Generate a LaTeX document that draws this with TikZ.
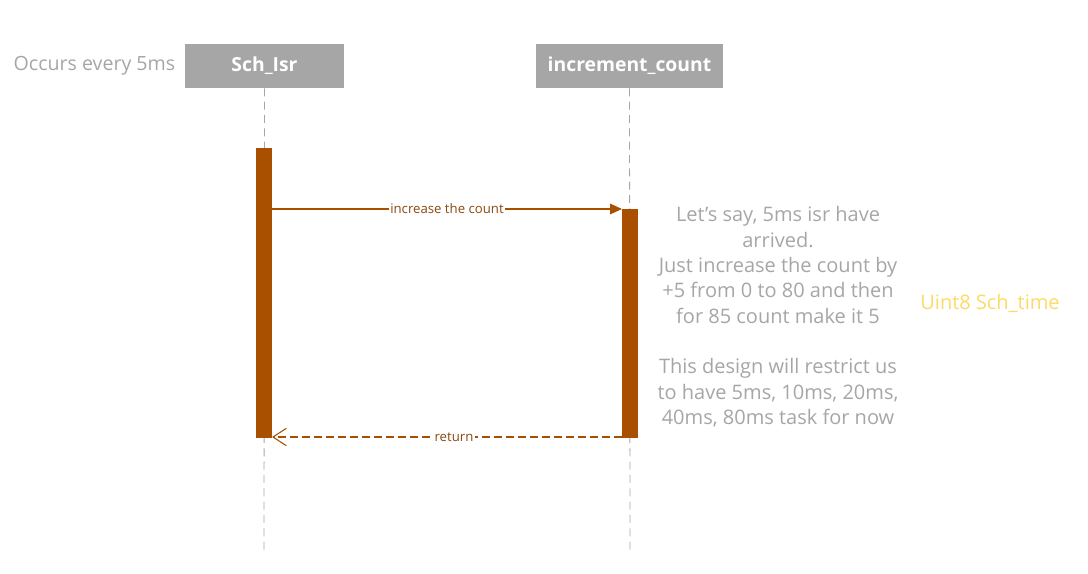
\documentclass[tikz,border=0pt]{standalone}
\usepackage{fontspec}
\setmainfont{Open Sans}
\usetikzlibrary{arrows.meta}
\definecolor{hdr}{HTML}{A6A6A6}
\definecolor{txtgray}{HTML}{A6A6A6}
\definecolor{act}{HTML}{A94F00}
\definecolor{msg}{HTML}{8A4A12}
\definecolor{note}{HTML}{FFD966}
\tikzset{
  x=0.75pt, y=-0.75pt,
  header/.style={fill=hdr, text=white, font=\bfseries\fontsize{14.5}{17}\selectfont, inner sep=0pt},
  lifeline/.style={draw=hdr, dash pattern=on 6pt off 4pt, line width=0.6pt},
  actbar/.style={fill=act, draw=none},
  msgline/.style={draw=act, line width=0.8pt},
  msglabel/.style={fill=white, text=msg, font=\fontsize{9.9}{12}\selectfont, inner sep=1pt},
  graytext/.style={text=txtgray, font=\fontsize{15}{19}\selectfont, align=center},
}
\begin{document}
\begin{tikzpicture}
\useasboundingbox (0,0) rectangle (1088,574);
% headers
\node[header, minimum width=119.25pt, minimum height=33pt] (isr) at (264.5,66) {Sch\_Isr};
\node[header, minimum width=140.25pt, minimum height=33pt] (inc) at (629.5,66) {increment\_count};
\node[text=txtgray, font=\fontsize{14.7}{17}\selectfont, anchor=east] (occ) at (180,66) {Occurs every 5ms};
% lifelines
\coordinate (isrEnd) at (264,552);
\coordinate (incEnd) at (630,552);
\draw[lifeline] (isr.south) -- (isrEnd);
\draw[lifeline] (inc.south) -- (incEnd);
% activation bars
\fill[actbar] (256,148) rectangle (272,438);
\fill[actbar] (622,209) rectangle (638,438);
\coordinate (a1) at (272,209);
\coordinate (b1) at (622,209);
\coordinate (a2) at (272,437);
\coordinate (b2) at (622,437);
% messages
\draw[msgline, -{Triangle[length=9pt,width=8pt]}] (a1) -- node[msglabel] (m1) {increase the count} (b1);
\draw[msgline, dash pattern=on 6pt off 3pt, -{Straight Barb[length=10pt,width=13pt,line width=0.8pt]}] (b2) -- node[msglabel, pos=0.48] (m2) {return} (a2);
% notes
\node[graytext] (note1) at (778,317) {Let’s say, 5ms isr have\\arrived.\\Just increase the count by\\+5 from 0 to 80 and then\\for 85 count make it 5\\[19pt]This design will restrict us\\to have 5ms, 10ms, 20ms,\\40ms, 80ms task for now};
\node[text=note, font=\fontsize{15}{17}\selectfont] (sch) at (990,303) {Uint8 Sch\_time};
\end{tikzpicture}
\end{document}
